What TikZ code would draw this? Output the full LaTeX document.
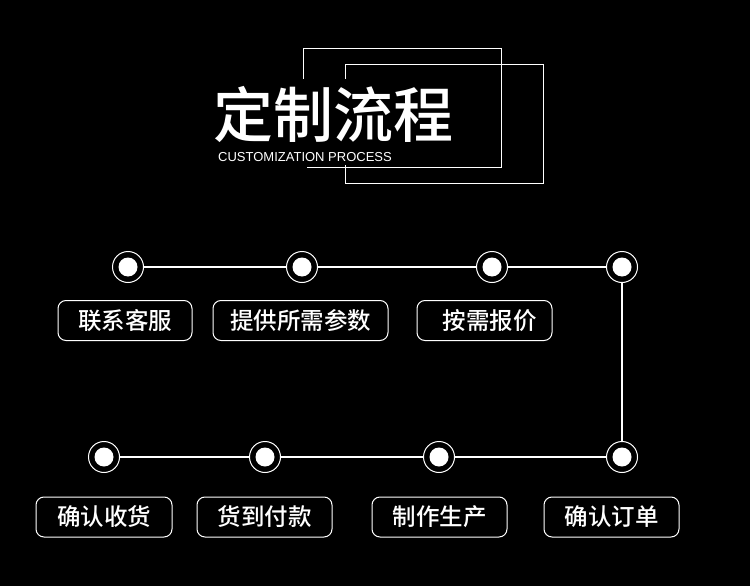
\documentclass[tikz,border=0pt]{standalone}
\usepackage{fontspec}
\setmainfont{Liberation Sans}
\newfontfamily\cjk{Noto Sans CJK SC}[UprightFont={* Medium}, BoldFont={* Bold}]
\usetikzlibrary{positioning}

\tikzset{
  ring/.style={circle, draw=white, line width=1pt, minimum size=31pt, inner sep=0pt,
    path picture={\fill[white] (path picture bounding box.center) circle (9.5pt);}},
  link/.style={draw=white, line width=1.1pt},
  stepbox/.style={draw=white, line width=1pt, rounded corners=8pt, minimum height=40pt,
    inner sep=0pt, text=white, font=\cjk\fontsize{23.5}{23.5}\selectfont},
}

\begin{document}
\begin{tikzpicture}[x=1pt,y=-1pt]
  \fill[black] (0,0) rectangle (750,586);
  \useasboundingbox (0,0) rectangle (750,586);
  % frames behind the title
  \draw[white, line width=1pt] (345,65) rectangle (543,183);
  \draw[white, line width=1pt] (303,80) -- (303,49) -- (501,49) -- (501,167) -- (307,167);
  \fill[black] (205,79) rectangle (460,165);
  \node[text=white, font=\cjk\fontsize{60}{60}\selectfont] (title) at (333,114) {定制流程};
  \node[text=white, font=\fontsize{13}{13}\selectfont] (subtitle) at (305,157) {CUSTOMIZATION PROCESS};

  % steps, top row then bottom row
  \node[ring] (s1) at (128,267) {};
  \node[ring] (s2) at (302,267) {};
  \node[ring] (s3) at (492,267) {};
  \node[ring] (s4) at (622,267) {};
  \node[ring] (s5) at (622,457) {};
  \node[ring] (s6) at (439,457) {};
  \node[ring] (s7) at (265,457) {};
  \node[ring] (s8) at (104,457) {};
  \foreach \a/\b in {s1/s2,s2/s3,s3/s4,s4/s5,s5/s6,s6/s7,s7/s8}
    \draw[link] (\a) -- (\b);

  \node[stepbox, minimum width=134pt] (b1) at (125,320.5) {联系客服};
  \node[stepbox, minimum width=175pt] (b2) at (300.5,320.5) {提供所需参数};
  \node[stepbox, minimum width=135pt] (b3) at (484.5,320.5) {\hspace{10pt}按需报价};
  \node[stepbox, minimum width=135pt] (b4) at (611.5,517) {确认订单};
  \node[stepbox, minimum width=135pt] (b5) at (439.5,517) {制作生产};
  \node[stepbox, minimum width=135pt] (b6) at (264.5,517) {货到付款};
  \node[stepbox, minimum width=136pt] (b7) at (104,517) {确认收货};
\end{tikzpicture}
\end{document}
